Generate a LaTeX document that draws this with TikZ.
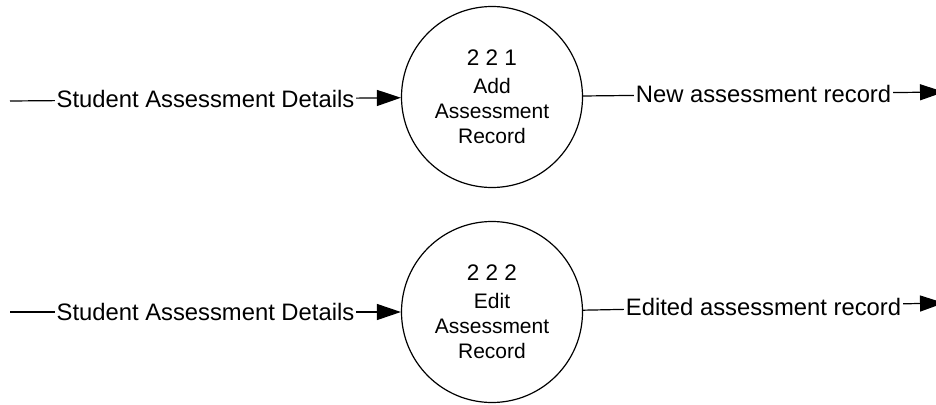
\documentclass[tikz,border=0pt]{standalone}
\usepackage{fontspec}
\setmainfont{Liberation Sans}
\usetikzlibrary{arrows.meta}

\tikzset{
	process/.style={draw, circle, line width=1.2pt, minimum size=181pt, inner sep=0pt, align=center, font=\fontsize{21}{25}\selectfont},
	flow/.style={line width=1.2pt, -{Triangle[length=24pt,width=16pt]}},
	flowlabel/.style={fill=white, inner sep=1.5pt, font=\fontsize{23.8}{28}\selectfont}
}
\newcommand{\numsize}{\fontsize{22.5}{26}\selectfont}

\begin{document}
\begin{tikzpicture}[x=1pt,y=-1pt]

	\useasboundingbox (0,0) rectangle (936,404);

	%PROCESSES
	\node[process] (p221) at (492,97) {{\numsize 2 2 1}\\[3pt]Add\\Assessment\\Record};
	\node[process] (p222) at (492,312) {{\numsize 2 2 2}\\[3pt]Edit\\Assessment\\Record};

	%FREE ENDS
	\coordinate (in1) at (10,101);
	\coordinate (out1) at (944,92);
	\coordinate (in2) at (10,312);
	\coordinate (out2) at (944,303);

	%FLOWS
	\draw[flow] (in1) -- node[flowlabel] (l1) {Student Assessment Details} (p221);
	\draw[flow] (p221) -- node[flowlabel] (l2) {New assessment record} (out1);
	\draw[flow] (in2) -- node[flowlabel] (l3) {Student Assessment Details} (p222);
	\draw[flow] (p222) -- node[flowlabel] (l4) {Edited assessment record} (out2);

\end{tikzpicture}
\end{document}
